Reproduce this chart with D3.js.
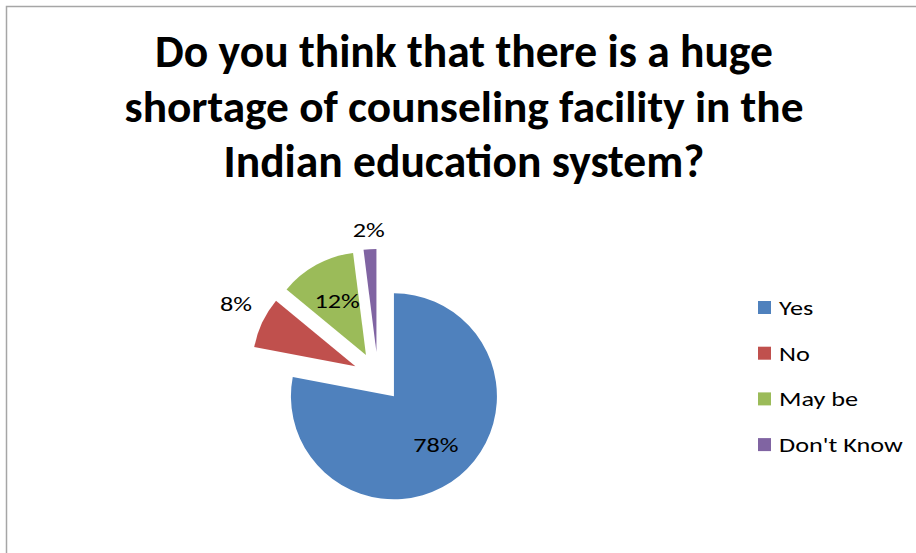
<!DOCTYPE html>
<html><head><meta charset="utf-8">
<script src="https://cdn.jsdelivr.net/npm/d3@7"></script>
<style>body{margin:0;background:#fff}svg{display:block}</style>
</head><body>
<svg id="c" width="916" height="553"></svg>
<script>
const titleLines = ["Do you think that there is a huge", "shortage of counseling facility in the", "Indian education system?"];
const categories = ["Yes", "No", "May be", "Don't Know"];
const values = [78, 8, 12, 2];
const labels = ["78%", "8%", "12%", "2%"];
const colors = ["#4F81BD", "#C0504D", "#9BBB59", "#8064A2"];

const svg = d3.select("#c");
const font = "Carlito, Calibri, Lato, 'Open Sans', sans-serif";
const sx = 1.25, fs = 21;

// border
svg.append("path").attr("d", "M6.5,553 V6.5 H916").attr("fill", "none").attr("stroke", "#a6a6a6").attr("stroke-width", 1.5);

// title
const titleBase = [67, 122, 177];
const titleWidths = [618, 679, 481];
titleLines.forEach((t, i) => {
  const el = svg.append("text").attr("x", 464).attr("y", titleBase[i])
    .attr("text-anchor", "middle").attr("font-family", font).attr("font-weight", "bold")
    .attr("font-size", 36).attr("fill", "#000").text(t);
  const w = el.node().getComputedTextLength();
  el.attr("font-size", 36 * titleWidths[i] / w);
});

function stretchedText(parent, x, y, txt, anchor, baseline) {
  const gg = parent.append("g").attr("transform", `translate(${x},${y}) scale(${sx},1)`);
  return gg.append("text").attr("text-anchor", anchor).attr("dominant-baseline", baseline)
    .attr("font-family", font).attr("font-size", fs).attr("fill", "#000").text(txt);
}

// pie
const cx = 378, cy = 377, R = 103, explode = 25;
const pie = d3.pie().sort(null).value(d => d)(values);
const arc = d3.arc().innerRadius(0).outerRadius(R);
const g = svg.append("g").attr("transform", `translate(${cx},${cy})`);
const labelR = [0.64, 1.28, 0.58, 1.18];
const labelNudge = [-3, -7, -2, -1];
pie.forEach((p, i) => {
  const mid = (p.startAngle + p.endAngle) / 2;
  const dx = Math.sin(mid) * explode, dy = -Math.cos(mid) * explode;
  g.append("path").attr("d", arc(p)).attr("fill", colors[i])
    .attr("transform", `translate(${dx},${dy})`);
  const lr = R * labelR[i];
  stretchedText(g, dx + Math.sin(mid) * lr, dy - Math.cos(mid) * lr + labelNudge[i], labels[i], "middle", "central");
});

// legend
const lg = svg.append("g");
categories.forEach((c, i) => {
  const y = 301 + i * 45.7;
  lg.append("rect").attr("x", 758).attr("y", y).attr("width", 13).attr("height", 13).attr("fill", colors[i]);
  stretchedText(lg, 779, y + 14, c, "start", "auto");
});
</script>
</body></html>
